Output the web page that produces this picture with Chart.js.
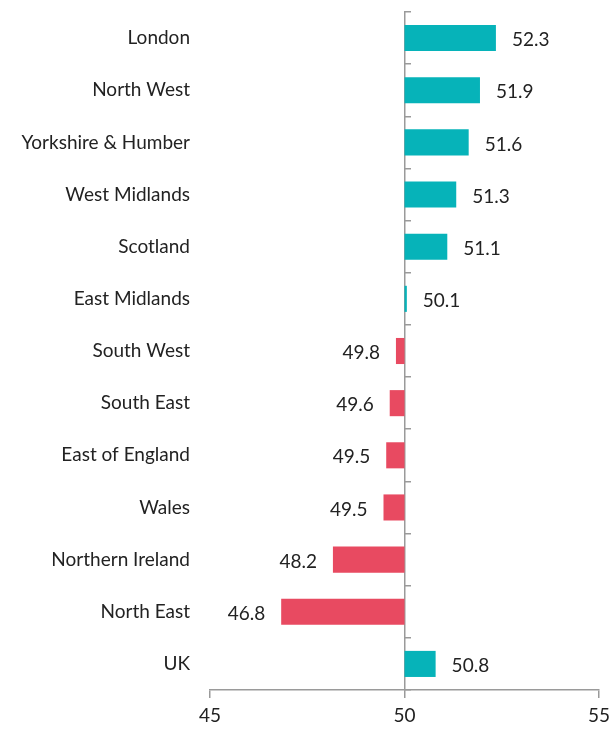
<!DOCTYPE html>
<html>
<head>
<meta charset="utf-8">
<script src="https://cdn.jsdelivr.net/npm/chart.js@4.4.1/dist/chart.umd.min.js"></script>
<style>
  html, body { margin: 0; padding: 0; background: #fff; }
  #wrap { width: 610px; height: 729px; }
</style>
</head>
<body>
<div id="wrap"><canvas id="chart"></canvas></div>
<script>
// regions, top to bottom
const regions = ['London', 'North West', 'Yorkshire & Humber', 'West Midlands', 'Scotland',
  'East Midlands', 'South West', 'South East', 'East of England', 'Wales',
  'Northern Ireland', 'North East', 'UK'];
// index values (bar ends, 50 = no change)
const values = [52.35, 51.94, 51.65, 51.33, 51.1, 50.06, 49.78, 49.62, 49.53, 49.46, 48.16, 46.83, 50.8];
// printed labels next to the bars
const valueLabels = ['52.3', '51.9', '51.6', '51.3', '51.1', '50.1', '49.8', '49.6', '49.5', '49.5', '48.2', '46.8', '50.8'];
const baseline = 50;
const xTicks = [45, 50, 55];

const TEAL = '#06B3B9';
const RED = '#E84A61';
const AXIS = '#9a9a9a';
const FONT = 'Lato, "Open Sans", sans-serif';
const FSIZE = 19;

// labels beside each bar
const valueLabelPlugin = {
  id: 'valueLabels',
  afterDatasetsDraw(chart) {
    const ctx = chart.ctx;
    const meta = chart.getDatasetMeta(0);
    ctx.save();
    ctx.font = FSIZE + 'px ' + FONT;
    ctx.fillStyle = '#222';
    ctx.textBaseline = 'middle';
    meta.data.forEach((bar, i) => {
      const up = values[i] >= baseline;
      const left = Math.min(bar.x, bar.base);
      const right = Math.max(bar.x, bar.base);
      ctx.textAlign = up ? 'left' : 'right';
      ctx.fillText(valueLabels[i], up ? right + 16 : left - 16, bar.y + 2);
    });
    ctx.restore();
  }
};

const ctx = document.getElementById('chart');
new Chart(ctx, {
  type: 'bar',
  data: {
    labels: regions,
    datasets: [{
      data: values.map(v => [baseline, v]),
      backgroundColor: values.map(v => v >= baseline ? TEAL : RED),
      barPercentage: 0.5,
      categoryPercentage: 1
    }]
  },
  options: {
    indexAxis: 'y',
    responsive: true,
    maintainAspectRatio: false,
    animation: false,
    layout: { padding: { top: 12, right: 11, left: 0, bottom: 0 } },
    plugins: {
      legend: { display: false },
      tooltip: { enabled: false }
    },
    scales: {
      x: {
        min: xTicks[0],
        max: xTicks[xTicks.length - 1],
        afterBuildTicks: scale => { scale.ticks = xTicks.map(v => ({ value: v })); },
        grid: { drawOnChartArea: false, drawTicks: true, tickLength: 8, color: AXIS, lineWidth: 1.5 },
        border: { display: true, color: AXIS, width: 1.5 },
        ticks: { color: '#222', font: { family: FONT, size: FSIZE }, padding: 6, maxRotation: 0 },
        afterFit: scale => {
          scale.height = 39;
          scale.paddingLeft = 0;
          scale.paddingRight = 0;
        }
      },
      y: {
        grid: { display: false, drawTicks: false },
        border: { display: false },
        ticks: { color: '#222', font: { family: FONT, size: FSIZE }, padding: 20 },
        afterFit: scale => {
          scale.width = 210;
          scale.paddingTop = 0;
          scale.paddingBottom = 0;
        }
      },
      // the axis line at 50 with its little tick marks
      yMid: {
        type: 'category',
        axis: 'y',
        position: { x: baseline },
        labels: regions,
        offset: true,
        grid: { offset: true, drawOnChartArea: false, drawTicks: true, tickLength: -7, color: AXIS, lineWidth: 1.5 },
        border: { display: true, color: AXIS, width: 1.5 },
        ticks: { display: false },
        afterFit: scale => {
          scale.paddingTop = 0;
          scale.paddingBottom = 0;
        }
      }
    }
  },
  plugins: [valueLabelPlugin]
});
</script>
</body>
</html>
